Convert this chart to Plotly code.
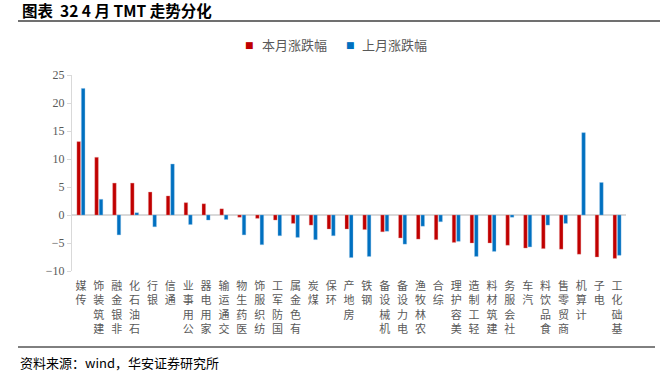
import plotly.graph_objects as go

categories = ["传媒", "建筑装饰", "非银金融", "石油石化", "银行", "通信", "公用事业", "家用电器",
              "交通运输", "医药生物", "纺织服饰", "国防军工", "有色金属", "煤炭", "环保", "房地产",
              "钢铁", "机械设备", "电力设备", "农林牧渔", "综合", "美容护理", "轻工制造", "建筑材料",
              "社会服务", "汽车", "食品饮料", "商贸零售", "计算机", "电子", "基础化工"]
this_month = [13.1, 10.3, 5.7, 5.7, 4.1, 3.4, 2.2, 2.0, 1.1, -0.4, -0.6, -0.9, -1.5, -1.8, -2.5, -2.5,
              -2.6, -3.0, -4.1, -4.3, -4.4, -4.9, -5.0, -5.0, -5.4, -5.9, -6.0, -6.1, -7.0, -7.5, -7.75]
last_month = [22.6, 2.8, -3.55, 0.4, -2.1, 9.1, -1.7, -0.9, -0.8, -3.55, -5.3, -3.7, -4.0, -4.4, -3.7, -7.6,
              -7.4, -2.9, -5.2, -2.0, -1.2, -4.7, -7.4, -6.5, -0.4, -5.7, -1.8, -1.5, 14.7, 5.8, -7.2]
series_names = ["本月涨跌幅", "上月涨跌幅"]
series_colors = ["#C00000", "#0070C0"]
y_ticks = [-10, -5, 0, 5, 10, 15, 20, 25]

# vertical labels: characters stacked, read bottom-to-top, top aligned
tick_text = ["<br>".join(reversed(list(c))) for c in categories]

cjk = "Noto Sans CJK SC"
fig = go.Figure()
fig.add_trace(go.Bar(x=categories, y=this_month, name=series_names[0], showlegend=False,
                     marker=dict(color=series_colors[0], line=dict(color="rgba(230,150,150,0.6)", width=0.6))))
fig.add_trace(go.Bar(x=categories, y=last_month, name=series_names[1], showlegend=False,
                     marker=dict(color=series_colors[1], line=dict(color="rgba(140,190,230,0.6)", width=0.6))))

L, R, T, B = 72, 37, 75, 106
PW, PH = 663 - L - R, 377 - T - B
def px(x):
    return (x - L) / PW
def py(y):
    return (377 - B - y) / PH

legend_ann = []
for name, col, sx in zip(series_names, series_colors, [249.5, 350]):
    legend_ann.append(dict(text="■", xref="paper", yref="paper", x=px(sx), y=py(45),
                           xanchor="center", yanchor="middle", showarrow=False,
                           font=dict(family="DejaVu Sans", size=9, color=col)))
    legend_ann.append(dict(text=name, xref="paper", yref="paper", x=px(sx + 10), y=py(45),
                           xanchor="left", yanchor="middle", showarrow=False,
                           font=dict(family=cjk, size=13, color="#595959")))

fig.update_layout(
    width=663, height=377,
    margin=dict(l=L, r=R, t=T, b=B, pad=0, autoexpand=False),
    paper_bgcolor="white", plot_bgcolor="white",
    barmode="group", bargap=0.5, bargroupgap=0.2,
    font=dict(family=cjk, color="#595959", size=11),
    showlegend=False,
    xaxis=dict(tickmode="array", tickvals=categories, ticktext=tick_text, tickangle=0,
               showline=False, showgrid=False, zeroline=False, ticks="",
               tickfont=dict(family=cjk, size=11, color="#595959"), ticklabelstandoff=7,
               range=[-0.5, len(categories) - 0.5]),
    yaxis=dict(range=[-10, 25], tickvals=y_ticks, showgrid=False,
               showline=True, linecolor="#d9d9d9", linewidth=1,
               ticks="outside", ticklen=4, tickcolor="#d9d9d9",
               zeroline=True, zerolinecolor="#d9d9d9", zerolinewidth=1.5,
               tickfont=dict(family="Liberation Serif", size=12, color="#595959")),
    shapes=[
        dict(type="line", xref="paper", yref="paper", x0=px(18), x1=px(660), y0=py(21), y1=py(21),
             line=dict(color="#404040", width=1.5)),
        dict(type="line", xref="paper", yref="paper", x0=px(18), x1=px(655), y0=py(347), y1=py(347),
             line=dict(color="#000000", width=1)),
    ],
    annotations=[
        dict(text="<b>图表  32 4 月 TMT 走势分化</b>", xref="paper", yref="paper",
             x=px(20), y=py(10), xanchor="left", yanchor="middle", showarrow=False,
             font=dict(family=cjk, size=15.5, color="#000000")),
        dict(text="资料来源：wind，华安证券研究所", xref="paper", yref="paper",
             x=px(18), y=py(362), xanchor="left", yanchor="middle", showarrow=False,
             font=dict(family=cjk, size=13, color="#000000")),
    ] + legend_ann,
)

fig.write_html("out.html", config={"displayModeBar": False},
               post_script="document.body.style.margin='0';document.body.style.overflow='hidden';")
